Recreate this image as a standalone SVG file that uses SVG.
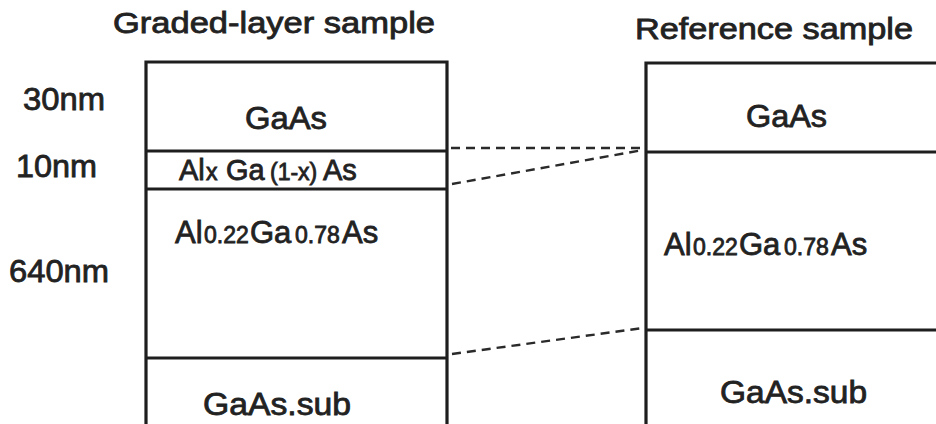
<svg xmlns="http://www.w3.org/2000/svg" width="936" height="424" viewBox="0 0 936 424">
<style>
text{font-family:"Liberation Sans",Arial,Helvetica,sans-serif;fill:#222;stroke:#222;stroke-width:0.8px}
.big{font-size:31px}
.sm{font-size:23px}
.mid{font-size:29px}
.msm{font-size:23px}
.lab{font-size:32px}
.ttl{font-size:29px}
.ln{stroke:#1e1e1e;stroke-width:3.2;fill:none}
.dash{stroke:#2a2a2a;stroke-width:2.4;stroke-dasharray:9 6;fill:none}
</style>
<rect width="936" height="424" fill="#fff"/>
<g id="titles">
<text class="ttl" x="113" y="33" textLength="322" lengthAdjust="spacingAndGlyphs">Graded-layer  sample</text>
<text class="ttl" x="635" y="39" textLength="278" lengthAdjust="spacingAndGlyphs">Reference  sample</text>
</g>
<g id="thickness-labels">
<text class="lab" x="23" y="110" textLength="82" lengthAdjust="spacingAndGlyphs">30nm</text>
<text class="lab" x="16" y="177" textLength="81" lengthAdjust="spacingAndGlyphs">10nm</text>
<text class="lab" x="9" y="282" textLength="100" lengthAdjust="spacingAndGlyphs">640nm</text>
</g>
<g id="graded-sample">
<path class="ln" d="M146 424V62H447V424M146 151H447M146 189H447M146 358H447"/>
<text class="big" x="245" y="129" textLength="82" lengthAdjust="spacingAndGlyphs">GaAs</text>
<text x="179" y="180"><tspan class="mid">Al</tspan><tspan class="msm" x="206">x</tspan><tspan class="mid" x="226">Ga</tspan><tspan class="msm" x="270">(1-x)</tspan><tspan class="mid" x="323">As</tspan></text>
<text x="175" y="243"><tspan class="big">Al</tspan><tspan class="sm" x="204">0.22</tspan><tspan class="big" x="250">Ga</tspan><tspan class="sm" x="295">0.78</tspan><tspan class="big" x="342">As</tspan></text>
<text class="big" x="203" y="415" textLength="148" lengthAdjust="spacingAndGlyphs">GaAs.sub</text>
</g>
<g id="reference-sample">
<path class="ln" d="M646 424V63H940M646 152H940M646 330H940"/>
<text class="big" x="746" y="127" textLength="81" lengthAdjust="spacingAndGlyphs">GaAs</text>
<text x="664" y="255"><tspan class="big">Al</tspan><tspan class="sm" x="693">0.22</tspan><tspan class="big" x="739">Ga</tspan><tspan class="sm" x="784">0.78</tspan><tspan class="big" x="831">As</tspan></text>
<text class="big" x="720" y="403" textLength="147" lengthAdjust="spacingAndGlyphs">GaAs.sub</text>
</g>
<g id="connectors">
<path class="dash" d="M451 148L643 148"/>
<path class="dash" d="M452 184L643 150"/>
<path class="dash" d="M452 354L643 328"/>
</g>
</svg>
